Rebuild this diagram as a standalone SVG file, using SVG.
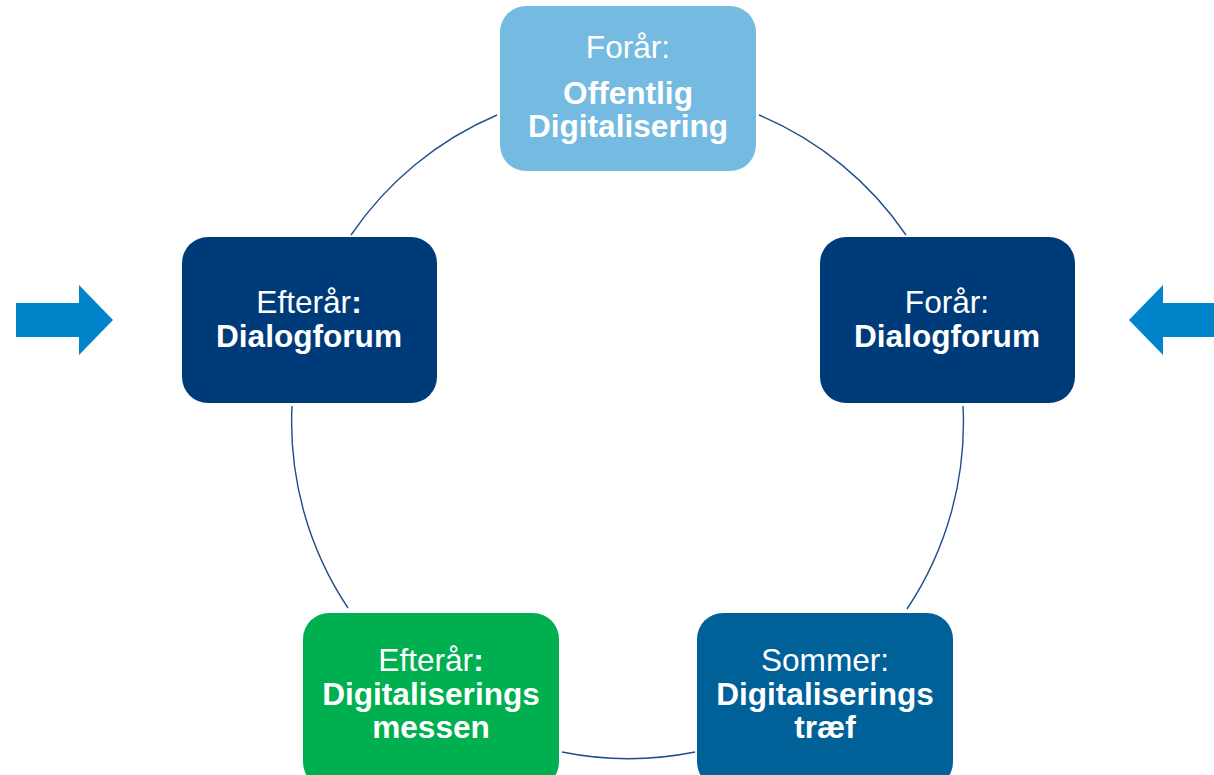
<svg xmlns="http://www.w3.org/2000/svg" width="1214" height="775" viewBox="0 0 1214 775">
<style>
.t{font-family:"Liberation Sans",Arial,sans-serif;font-size:31.6px;fill:#fff;text-anchor:middle}
.b{font-weight:bold}
.arc{fill:none;stroke:#1F4E8C;stroke-width:1.4}
.arrow{fill:#0085CA}
</style>
<rect width="1214" height="775" fill="#fff"/>
<g id="connectors">
<path class="arc" d="M351,235 A335,335 0 0 1 497,115"/>
<path class="arc" d="M759,115 A335,335 0 0 1 906,235"/>
<path class="arc" d="M963,406 A335,335 0 0 1 907,609"/>
<path class="arc" d="M695,752 A335,335 0 0 1 562,752"/>
<path class="arc" d="M348,608 A335,335 0 0 1 292,406"/>
</g>
<g id="arrow-left"><polygon class="arrow" points="16,303 79,303 79,285 113,320 79,355 79,337 16,337"/></g>
<g id="arrow-right"><polygon class="arrow" points="1214,303 1163,303 1163,285 1129,320 1163,355 1163,337 1214,337"/></g>
<g id="node-top">
<rect x="500" y="6" width="256" height="165" rx="26" fill="#75BBE1"/>
<text class="t" x="628" y="58">Forår:</text>
<text class="t b" x="628" y="104">Offentlig</text>
<text class="t b" x="628" y="137">Digitalisering</text>
</g>
<g id="node-right">
<rect x="820" y="237" width="255" height="166" rx="26" fill="#003B79"/>
<text class="t" x="947" y="313">Forår:</text>
<text class="t b" x="947" y="347">Dialogforum</text>
</g>
<g id="node-left">
<rect x="182" y="237" width="255" height="166" rx="26" fill="#003B79"/>
<text class="t" x="309" y="313">Efterår<tspan class="b">:</tspan></text>
<text class="t b" x="309" y="347">Dialogforum</text>
</g>
<g id="node-bottom-right">
<rect x="697" y="613" width="256" height="175" rx="26" fill="#006199"/>
<text class="t" x="825" y="671">Sommer:</text>
<text class="t b" x="825" y="705">Digitaliserings</text>
<text class="t b" x="825" y="738">træf</text>
</g>
<g id="node-bottom-left">
<rect x="303" y="613" width="256" height="175" rx="26" fill="#00AF4F"/>
<text class="t" x="431" y="671">Efterår<tspan class="b">:</tspan></text>
<text class="t b" x="431" y="705">Digitaliserings</text>
<text class="t b" x="431" y="738">messen</text>
</g>
</svg>
